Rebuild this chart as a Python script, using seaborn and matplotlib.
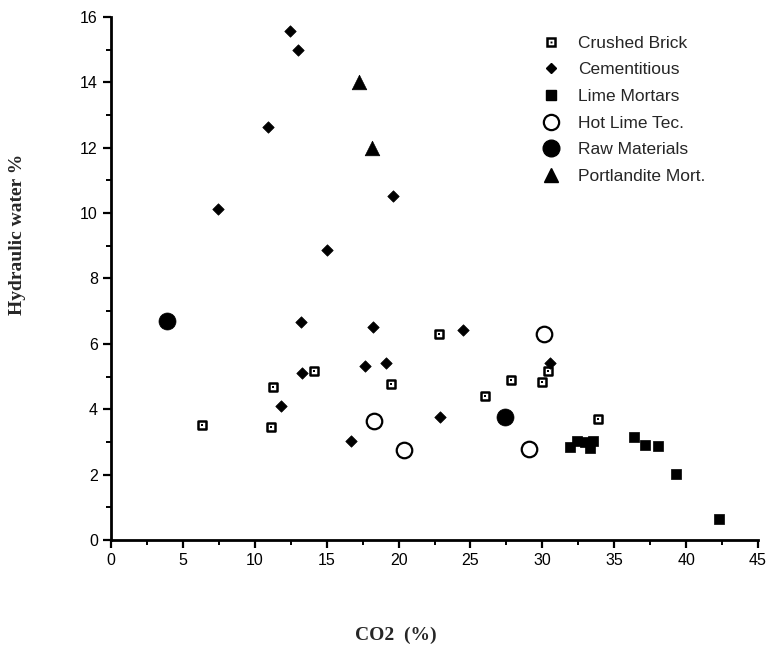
import matplotlib

matplotlib.use("Agg")
import matplotlib.pyplot as plt
import pandas as pd
import seaborn as sns
from matplotlib.legend_handler import HandlerTuple
from matplotlib.lines import Line2D
from matplotlib.ticker import MultipleLocator

# values (CO2 %, hydraulic water %)
brick_co2 = [6.3, 11.1, 11.3, 14.1, 19.5, 22.8, 26.0, 27.8, 30.0, 30.4, 33.9]
brick_water = [3.52, 3.46, 4.69, 5.17, 4.76, 6.31, 4.39, 4.89, 4.82, 5.17, 3.71]

cement_co2 = [12.45, 12.98, 10.9, 7.46, 19.63, 15.0, 13.19, 18.24, 13.28, 17.68,
              19.1, 11.84, 16.67, 24.46, 22.86, 30.55]
cement_water = [15.57, 15.0, 12.63, 10.12, 10.53, 8.86, 6.66, 6.52, 5.11, 5.32,
                5.41, 4.10, 3.02, 6.41, 3.75, 5.40]

lime_co2 = [31.9, 32.4, 33.0, 33.5, 33.3, 36.35, 37.16, 38.04, 39.31, 42.3]
lime_water = [2.85, 3.02, 3.0, 3.04, 2.80, 3.14, 2.92, 2.87, 2.01, 0.63]

hot_co2 = [18.29, 20.4, 30.13, 29.07]
hot_water = [3.63, 2.74, 6.31, 2.79]

raw_co2 = [3.87, 27.38]
raw_water = [6.69, 3.76]

port_co2 = [17.25, 18.15]
port_water = [14.0, 12.0]

LABELS = ["Crushed Brick", "Cementitious", "Lime Mortars", "Hot Lime Tec.",
          "Raw Materials", "Portlandite Mort."]

sns.set_style("ticks")
plt.rcParams["font.family"] = ["Liberation Sans", "DejaVu Sans"]

fig = plt.figure(figsize=(7.72, 6.46), dpi=100)
ax = fig.add_axes([0.1438, 0.1641, 0.8381, 0.8096])

brick = pd.DataFrame({"co2": brick_co2, "water": brick_water})
sns.scatterplot(data=brick, x="co2", y="water", marker="s", s=34,
                facecolor="white", edgecolor="black", linewidth=1.8, ax=ax, zorder=3)
sns.scatterplot(data=brick, x="co2", y="water", marker="s", s=2,
                color="black", linewidth=0, ax=ax, zorder=4)

cement = pd.DataFrame({"co2": cement_co2, "water": cement_water})
sns.scatterplot(data=cement, x="co2", y="water", marker="D", s=34,
                color="black", edgecolor="black", linewidth=0.5, ax=ax, zorder=3)

lime = pd.DataFrame({"co2": lime_co2, "water": lime_water})
sns.scatterplot(data=lime, x="co2", y="water", marker="s", s=46,
                color="black", edgecolor="black", linewidth=0.5, ax=ax, zorder=3)

hot = pd.DataFrame({"co2": hot_co2, "water": hot_water})
sns.scatterplot(data=hot, x="co2", y="water", marker="o", s=125,
                facecolor="white", edgecolor="black", linewidth=1.6, ax=ax, zorder=3)

raw = pd.DataFrame({"co2": raw_co2, "water": raw_water})
sns.scatterplot(data=raw, x="co2", y="water", marker="o", s=150,
                color="black", edgecolor="black", linewidth=0.5, ax=ax, zorder=3)

port = pd.DataFrame({"co2": port_co2, "water": port_water})
sns.scatterplot(data=port, x="co2", y="water", marker="^", s=110,
                color="black", edgecolor="black", linewidth=0.5, ax=ax, zorder=3)

ax.set_xlim(0, 45)
ax.set_ylim(0, 16)
ax.xaxis.set_major_locator(MultipleLocator(5))
ax.xaxis.set_minor_locator(MultipleLocator(2.5))
ax.yaxis.set_major_locator(MultipleLocator(2))
ax.yaxis.set_minor_locator(MultipleLocator(1))
ax.tick_params(which="major", direction="out", length=6, width=1.6,
               labelsize=11.5, color="black", labelcolor="black")
ax.tick_params(which="minor", direction="out", length=3.5, width=1.4, color="black")
for side in ["left", "bottom"]:
    ax.spines[side].set_linewidth(2)
    ax.spines[side].set_color("black")
sns.despine(ax=ax)

label_font = {"family": ["Liberation Serif", "DejaVu Serif"], "weight": "bold", "size": 14}
ax.set_xlabel("CO2  (%)", fontdict=label_font)
ax.set_ylabel("Hydraulic water %", fontdict=label_font)
ax.xaxis.set_label_coords(0.44, -0.165)
ax.yaxis.set_label_coords(-0.132, 0.585)

ms = dict(color="black", linestyle="none")
handles = [
    (Line2D([], [], marker="s", markersize=6, markerfacecolor="white",
            markeredgecolor="black", markeredgewidth=1.8, **ms),
     Line2D([], [], marker="s", markersize=1.4, markerfacecolor="black",
            markeredgewidth=0, **ms)),
    Line2D([], [], marker="D", markersize=5.5, **ms),
    Line2D([], [], marker="s", markersize=6.8, **ms),
    Line2D([], [], marker="o", markersize=11, markerfacecolor="white",
           markeredgecolor="black", markeredgewidth=1.6, **ms),
    Line2D([], [], marker="o", markersize=12, **ms),
    Line2D([], [], marker="^", markersize=10, **ms),
]
ax.legend(handles, LABELS, handler_map={tuple: HandlerTuple(ndivide=1)},
          loc="upper left", bbox_to_anchor=(0.65, 0.981), frameon=False,
          fontsize=12.5, handlelength=1.2, handletextpad=1.0, labelspacing=0.66,
          borderpad=0)

fig.savefig("out.png", dpi=100)
